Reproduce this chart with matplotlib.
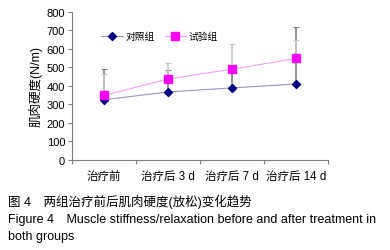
import numpy as np
import matplotlib
matplotlib.use('Agg')
import matplotlib.pyplot as plt

plt.rcParams['font.family'] = ['Liberation Sans', 'Noto Sans CJK SC']

# data
categories = ['治疗前', '治疗后 3 d', '治疗后 7 d', '治疗后 14 d']
control = [325, 367, 389, 410]
control_err = [165, 119, 100, 309]
test = [348, 437, 490, 548]
test_err = [117, 87, 137, 100]
y_ticks = [0, 100, 200, 300, 400, 500, 600, 700, 800]

fig = plt.figure(figsize=(3.9, 2.51), dpi=100)
ax = fig.add_axes([0.185, 0.359, 0.656, 0.59])

x = np.arange(len(categories))

# one-sided (upper) error bars
ax.errorbar(x, control, yerr=[np.zeros(len(x)), control_err], fmt='none',
            ecolor='#808080', elinewidth=1.2, capsize=2, capthick=0.8, zorder=1)
ax.errorbar(x, test, yerr=[np.zeros(len(x)), test_err], fmt='none',
            ecolor='#c8c8c8', elinewidth=1.2, capsize=2, capthick=0.8, zorder=2)

ax.plot(x, control, color='#9a9ab8', lw=0.8, marker='D', ms=4,
        mfc='#000080', mec='#000080', label='对照组', zorder=3)
ax.plot(x, test, color='#f0a0f0', lw=0.8, marker='s', ms=6,
        mfc='#ff00ff', mec='#ff00ff', label='试验组', zorder=3)

ax.set_xlim(-0.5, 3.5)
ax.set_ylim(0, 800)
ax.set_yticks(y_ticks)
ax.set_xticks(x)
ax.set_xticklabels(categories, fontsize=8.3)
ax.set_xticks(np.arange(-0.5, 4, 1), minor=True)
ax.tick_params(axis='x', which='major', length=0, pad=7)
ax.tick_params(axis='x', which='minor', length=3, color='#808080', width=0.8)
ax.tick_params(axis='y', length=3, color='#808080', width=0.8, labelsize=8, pad=2)

for s in ['top', 'right']:
    ax.spines[s].set_visible(False)
for s in ['left', 'bottom']:
    ax.spines[s].set_color('#808080')
    ax.spines[s].set_linewidth(0.8)

ax.set_ylabel('肌肉硬度(N/m)', fontsize=9, labelpad=3)

ax.legend(loc='upper left', bbox_to_anchor=(0.08, 0.93), ncol=2, frameon=False,
          fontsize=7, handlelength=2.2, columnspacing=1.0, handletextpad=0.3)

fig.text(0.02, 0.18, '图 4\u3000两组治疗前后肌肉硬度(放松)变化趋势', fontsize=9)
fig.text(0.02, 0.112, 'Figure 4\u3000Muscle stiffness/relaxation before and after treatment in',
         fontsize=9)
fig.text(0.02, 0.044, 'both groups', fontsize=9)

fig.savefig('out.png', dpi=100)
